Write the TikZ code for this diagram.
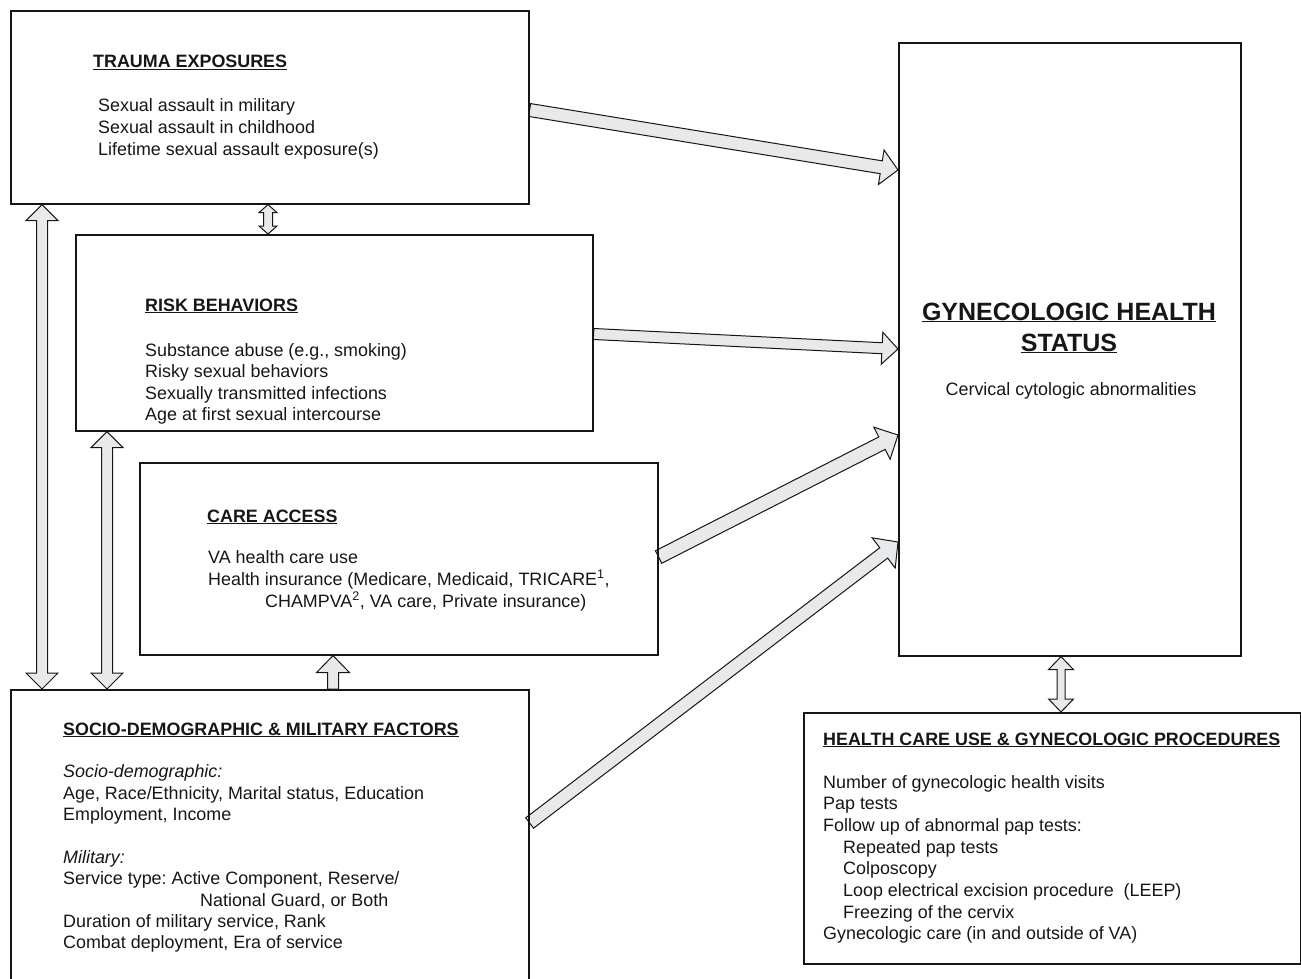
\documentclass[tikz,border=0pt]{standalone}
\usepackage{fontspec}
\setmainfont{Liberation Sans}
\frenchspacing
\usetikzlibrary{calc,backgrounds}
\definecolor{afill}{HTML}{E8E9EA}
\definecolor{ink}{HTML}{161616}
\tikzset{
 box/.style={draw=ink, line width=1.6pt, rectangle, anchor=north west, inner sep=0pt},
 blk/.style={fill=afill, draw=ink, line width=1pt, line join=miter},
 txt/.style={anchor=base west, inner sep=0pt, text=ink, font=\fontsize{17.9}{21.5}\selectfont},
 ttl/.style={txt, font=\fontsize{17.9}{21.5}\selectfont\bfseries},
 big/.style={anchor=base, inner sep=0pt, text=ink, font=\fontsize{25}{31}\selectfont\bfseries},
 mid/.style={anchor=base, inner sep=0pt, text=ink, font=\fontsize{17.9}{21.5}\selectfont},
}
\newcommand\tline[4]{\node[txt] (#1) at (#2,#3) {#4};}
% single block arrow: from #1 to #2, shaft half width #3, head half width #4, head length #5
\newcommand\sarr[5]{%
 \path ($(#2)!#5!(#1)$) coordinate (hb);
 \draw[blk] ($(#1)!#3!90:(#2)$) -- ($(hb)!#3!90:(#2)$) -- ($(hb)!#4!90:(#2)$) -- (#2)
   -- ($(hb)!#4!-90:(#2)$) -- ($(hb)!#3!-90:(#2)$) -- ($(#1)!#3!-90:(#2)$) -- cycle;}
% double block arrow
\newcommand\darr[5]{%
 \path ($(#1)!#5!(#2)$) coordinate (ha) ($(#2)!#5!(#1)$) coordinate (hb);
 \draw[blk] (#1) -- ($(ha)!#4!90:(#2)$) -- ($(ha)!#3!90:(#2)$) -- ($(hb)!#3!90:(#2)$)
   -- ($(hb)!#4!90:(#2)$) -- (#2) -- ($(hb)!#4!-90:(#2)$) -- ($(hb)!#3!-90:(#2)$)
   -- ($(ha)!#3!-90:(#2)$) -- ($(ha)!#4!-90:(#2)$) -- cycle;}
\begin{document}
\begin{tikzpicture}[x=1pt,y=-1pt]
\useasboundingbox (0,0) rectangle (1301,979);
% boxes
\node[box, minimum width=518pt, minimum height=193pt] (trauma) at (10,10) {};
\node[box, minimum width=517pt, minimum height=196pt] (risk) at (75,234) {};
\node[box, minimum width=518pt, minimum height=192pt] (care) at (139,462) {};
\node[box, minimum width=518pt, minimum height=300pt] (socio) at (10,689) {};
\node[box, minimum width=342pt, minimum height=613pt] (gyn) at (898,42) {};
\node[box, minimum width=497pt, minimum height=251pt] (hcu) at (803,712) {};
% connector end points
\coordinate (a1s) at ($(trauma.north east)+(0,100)$);
\coordinate (a1e) at ($(gyn.north west)+(0,128)$);
\coordinate (a2s) at ($(risk.north east)+(0,100)$);
\coordinate (a2e) at ($(gyn.north west)+(0,307)$);
\coordinate (a3s) at ($(care.north east)+(0,95)$);
\coordinate (a3e) at ($(gyn.north west)+(0,393)$);
\coordinate (a4s) at ($(socio.north east)+(0,134)$);
\coordinate (a4e) at ($(gyn.north west)+(0,500)$);
\coordinate (d1s) at ($(trauma.south west)+(258,0)$);
\coordinate (d1e) at ($(risk.north west)+(193,0)$);
\coordinate (d2s) at ($(trauma.south west)+(32,0)$);
\coordinate (d2e) at ($(socio.north west)+(32,0)$);
\coordinate (d3s) at ($(risk.south west)+(32,0)$);
\coordinate (d3e) at ($(socio.north west)+(97,0)$);
\coordinate (s1s) at ($(socio.north west)+(323,0)$);
\coordinate (s1e) at ($(care.south west)+(194,0)$);
\coordinate (d4s) at ($(gyn.south west)+(163,0)$);
\coordinate (d4e) at ($(hcu.north west)+(258,0)$);
\begin{pgfonlayer}{background}
\sarr{a1s}{a1e}{6.5pt}{17.5pt}{17pt}
\sarr{a2s}{a2e}{5.5pt}{16pt}{16pt}
\sarr{a3s}{a3e}{7pt}{18pt}{18pt}
\sarr{a4s}{a4e}{6.5pt}{19pt}{18pt}
\darr{d1s}{d1e}{4.5pt}{9pt}{8pt}
\darr{d2s}{d2e}{5.5pt}{16pt}{16pt}
\darr{d3s}{d3e}{5.5pt}{16pt}{16pt}
\sarr{s1s}{s1e}{5.5pt}{16.5pt}{17pt}
\darr{d4s}{d4e}{4pt}{12.5pt}{13pt}
\end{pgfonlayer}
% trauma
\node[ttl] (t0) at (93,68) {\underline{TRAUMA EXPOSURES}};
\tline{t1}{98}{112}{Sexual assault in military}
\tline{t2}{98}{133.5}{Sexual assault in childhood}
\tline{t3}{98}{155}{Lifetime sexual assault exposure(s)}
% risk
\node[ttl] (r0) at (145,311) {\underline{RISK BEHAVIORS}};
\tline{r1}{145}{356}{Substance abuse (e.g., smoking)}
\tline{r2}{145}{377.5}{Risky sexual behaviors}
\tline{r3}{145}{399}{Sexually transmitted infections}
\tline{r4}{145}{420.5}{Age at first sexual intercourse}
% care
\node[ttl] (c0) at (207,522) {\underline{CARE ACCESS}};
\tline{c1}{208}{563}{VA health care use}
\tline{c2}{208}{585}{Health insurance (Medicare, Medicaid, TRICARE\textsuperscript{1},}
\tline{c3}{265}{607}{CHAMPVA\textsuperscript{2}, VA care, Private insurance)}
% socio
\node[ttl] (s0) at (63,735) {\underline{SOCIO-DEMOGRAPHIC \& MILITARY FACTORS}};
\tline{s1}{63}{777.5}{\itshape Socio-demographic:}
\tline{s2}{63}{799}{Age, Race/Ethnicity, Marital status, Education}
\tline{s3}{63}{820.5}{Employment, Income}
\tline{s4}{63}{863}{\itshape Military:}
\tline{s5}{63}{884.5}{Service type: Active Component, Reserve/}
\tline{s6}{200}{906}{National Guard, or Both}
\tline{s7}{63}{927}{Duration of military service, Rank}
\tline{s8}{63}{948}{Combat deployment, Era of service}
% gyn
\node[big] (g1) at (1069,320) {\underline{GYNECOLOGIC HEALTH}};
\node[big] (g2) at (1069,351) {\underline{STATUS}};
\node[mid] (g3) at (1071,395) {Cervical cytologic abnormalities};
% health care use
\node[ttl] (h0) at (823,745) {\underline{HEALTH CARE USE \& GYNECOLOGIC PROCEDURES}};
\tline{h1}{823}{788}{Number of gynecologic health visits}
\tline{h2}{823}{809.7}{Pap tests}
\tline{h3}{823}{831.3}{Follow up of abnormal pap tests:}
\tline{h4}{843}{853}{Repeated pap tests}
\tline{h5}{843}{874.7}{Colposcopy}
\tline{h6}{843}{896.3}{Loop electrical excision procedure\ \ (LEEP)}
\tline{h7}{843}{918}{Freezing of the cervix}
\tline{h8}{823}{939.7}{Gynecologic care (in and outside of VA)}
\end{tikzpicture}
\end{document}
